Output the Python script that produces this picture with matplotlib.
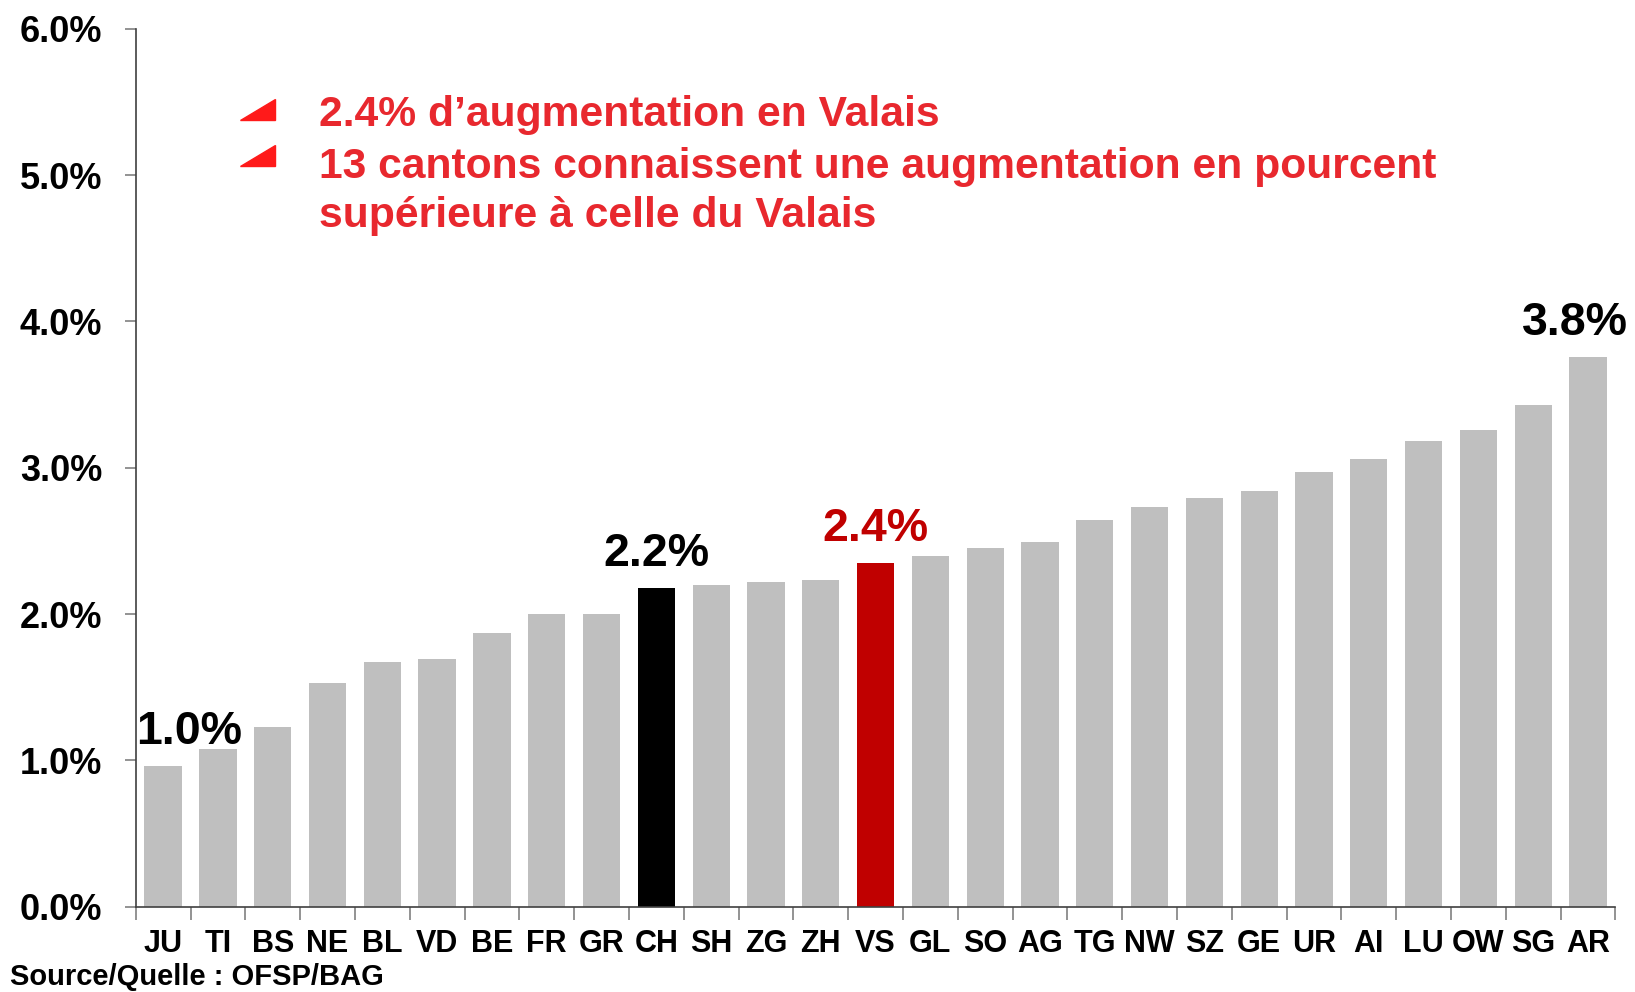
import matplotlib.pyplot as plt
from matplotlib.patches import Polygon
import numpy as np

# Cantons sorted by increase (%)
cantons = ['JU', 'TI', 'BS', 'NE', 'BL', 'VD', 'BE', 'FR', 'GR', 'CH', 'SH', 'ZG', 'ZH',
           'VS', 'GL', 'SO', 'AG', 'TG', 'NW', 'SZ', 'GE', 'UR', 'AI', 'LU', 'OW', 'SG', 'AR']
increase = [0.96, 1.08, 1.23, 1.53, 1.67, 1.69, 1.87, 2.00, 2.00, 2.18, 2.20, 2.22, 2.23,
            2.35, 2.40, 2.45, 2.49, 2.64, 2.73, 2.79, 2.84, 2.97, 3.06, 3.18, 3.26, 3.43, 3.76]

# labelled bars: (canton, text, colour)
labels = [('JU', '1.0%', 'black'), ('CH', '2.2%', 'black'),
          ('VS', '2.4%', '#C00000'), ('AR', '3.8%', 'black')]
label_shift = {'JU': 0.48, 'CH': 0.0, 'VS': 0.0, 'AR': -0.24}

notes = ["2.4% d\u2019augmentation en Valais",
         "13 cantons connaissent une augmentation en pourcent\nsup\u00e9rieure \u00e0 celle du Valais"]

plt.rcParams['font.family'] = ['Liberation Sans', 'DejaVu Sans']
plt.rcParams['font.weight'] = 'bold'

fig = plt.figure(figsize=(16.35, 9.92), dpi=100)
ax = fig.add_axes([0.083, 0.086, 0.905, 0.885])

colors = ['#BFBFBF'] * len(cantons)
colors[cantons.index('CH')] = 'black'
colors[cantons.index('VS')] = '#C00000'

x = np.arange(len(cantons))
ax.bar(x, increase, width=0.68, color=colors, zorder=2)

ax.set_xlim(-0.5, len(cantons) - 0.5)
ax.set_ylim(0, 6)
ax.set_yticks(np.arange(0, 7, 1))
ax.set_yticklabels([f'{v:.1f}%' for v in range(7)], fontsize=26, fontweight='bold')
ax.set_xticks(x)
ax.set_xticklabels(cantons, fontsize=22, fontweight='bold')
ax.set_xticks(np.arange(-0.5, len(cantons), 1), minor=True)
ax.tick_params(axis='x', which='major', length=0, pad=16)
ax.tick_params(axis='x', which='minor', length=9, color='#808080', width=1.2)
ax.tick_params(axis='y', length=8, color='#808080', width=1.2, pad=16)

for s in ['top', 'right']:
    ax.spines[s].set_visible(False)
ax.spines['left'].set_color('#404040')
ax.spines['bottom'].set_color('#404040')
ax.spines['left'].set_linewidth(1.2)
ax.spines['bottom'].set_linewidth(1.2)

for c, txt, col in labels:
    i = cantons.index(c)
    ax.text(i + label_shift[c], increase[i] + 0.15, txt, ha='center', va='baseline',
            fontsize=33.5, fontweight='bold', color=col, clip_on=False)

# bullet notes with red triangles
note_y = [0.904, 0.852]
tri_top = [0.900, 0.854]
for ny, tt, note in zip(note_y, tri_top, notes):
    fig.text(0.195, ny, note, fontsize=30.7, fontweight='bold', color='#E8282E',
             va='top', ha='left', linespacing=1.3)
    tri = Polygon([(0.147, tt - 0.021), (0.168, tt - 0.021), (0.168, tt)],
                  closed=True, color='#FF1A1A', transform=fig.transFigure)
    fig.patches.append(tri)

fig.text(0.006, 0.001, 'Source/Quelle : OFSP/BAG', fontsize=21, fontweight='bold',
         ha='left', va='bottom')

fig.savefig('out.png', dpi=100)
